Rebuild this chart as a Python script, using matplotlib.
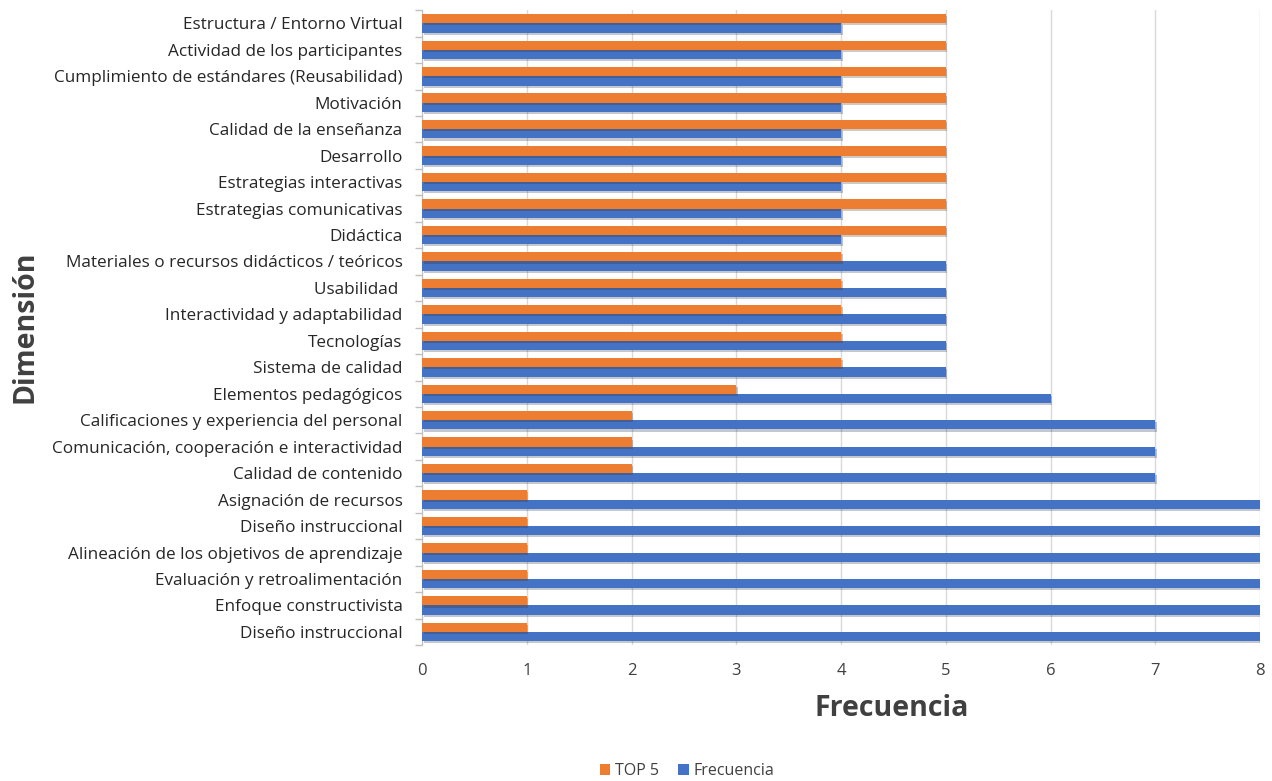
import numpy as np
import matplotlib
matplotlib.use("Agg")
import matplotlib.pyplot as plt
import matplotlib.patheffects as pe
from matplotlib.patches import Patch

plt.rcParams['font.family'] = ['Open Sans', 'DejaVu Sans']

# categories listed bottom to top
dimensiones = [
    "Diseño instruccional",
    "Enfoque constructivista",
    "Evaluación y retroalimentación",
    "Alineación de los objetivos de aprendizaje",
    "Diseño instruccional",
    "Asignación de recursos",
    "Calidad de contenido",
    "Comunicación, cooperación e interactividad",
    "Calificaciones y experiencia del personal",
    "Elementos pedagógicos",
    "Sistema de calidad",
    "Tecnologías",
    "Interactividad y adaptabilidad",
    "Usabilidad ",
    "Materiales o recursos didácticos / teóricos",
    "Didáctica",
    "Estrategias comunicativas",
    "Estrategias interactivas",
    "Desarrollo",
    "Calidad de la enseñanza",
    "Motivación",
    "Cumplimiento de estándares (Reusabilidad)",
    "Actividad de los participantes",
    "Estructura / Entorno Virtual",
]
top5 = [1, 1, 1, 1, 1, 1, 2, 2, 2, 3, 4, 4, 4, 4, 4, 5, 5, 5, 5, 5, 5, 5, 5, 5]
frecuencia = [8, 8, 8, 8, 8, 8, 7, 7, 7, 6, 5, 5, 5, 5, 5, 4, 4, 4, 4, 4, 4, 4, 4, 4]

c_top5 = "#ED7D31"
c_freq = "#4472C4"

fig = plt.figure(figsize=(12.72, 7.81), dpi=100)
ax = fig.add_axes([0.3318, 0.174, 0.6588, 0.813])

y = np.arange(len(dimensiones))
h = 0.35
shadow = [pe.SimplePatchShadow(offset=(1.2, -1.5), alpha=0.25), pe.Normal()]
b1 = ax.barh(y - h / 2, frecuencia, height=h, color=c_freq, zorder=3)
b2 = ax.barh(y + h / 2, top5, height=h, color=c_top5, zorder=3)
for bar in list(b1) + list(b2):
    bar.set_path_effects(shadow)

ax.set_xlim(0, 8)
ax.set_ylim(-0.5, len(dimensiones) - 0.5)
ax.set_xticks(range(9))
ax.set_yticks(y)
ax.set_yticklabels(dimensiones)
ax.set_yticks(np.arange(-0.5, len(dimensiones)), minor=True)

ax.tick_params(axis='y', which='major', length=0, pad=14, labelsize=12.3, labelcolor="#262626")
ax.tick_params(axis='y', which='minor', length=5, color="#BFBFBF", width=1)
ax.tick_params(axis='x', length=0, pad=13, labelsize=12, labelcolor="#404040")

ax.grid(axis='x', color="#D9D9D9", linewidth=1, zorder=0)
for side in ["top", "right", "bottom"]:
    ax.spines[side].set_visible(False)
ax.spines["left"].set_color("#BFBFBF")

fig.text(892 / 1272, 1 - 708 / 781, "Frecuencia", ha="center", va="center",
         fontsize=20.5, fontweight="bold", color="#404040")
fig.text(25 / 1272, 1 - 327 / 781, "Dimensión", ha="center", va="center",
         rotation=90, fontsize=20.5, fontweight="bold", color="#404040")

handles = [Patch(facecolor=c_top5), Patch(facecolor=c_freq)]
fig.legend(handles, ["TOP 5", "Frecuencia"], loc="center", ncol=2,
           bbox_to_anchor=(687 / 1272, 1 - 771 / 781), frameon=False,
           fontsize=11.5, handlelength=0.65, handleheight=0.65, handletextpad=0.3,
           columnspacing=1.2, labelcolor="#404040")

fig.savefig("out.png", dpi=100)
